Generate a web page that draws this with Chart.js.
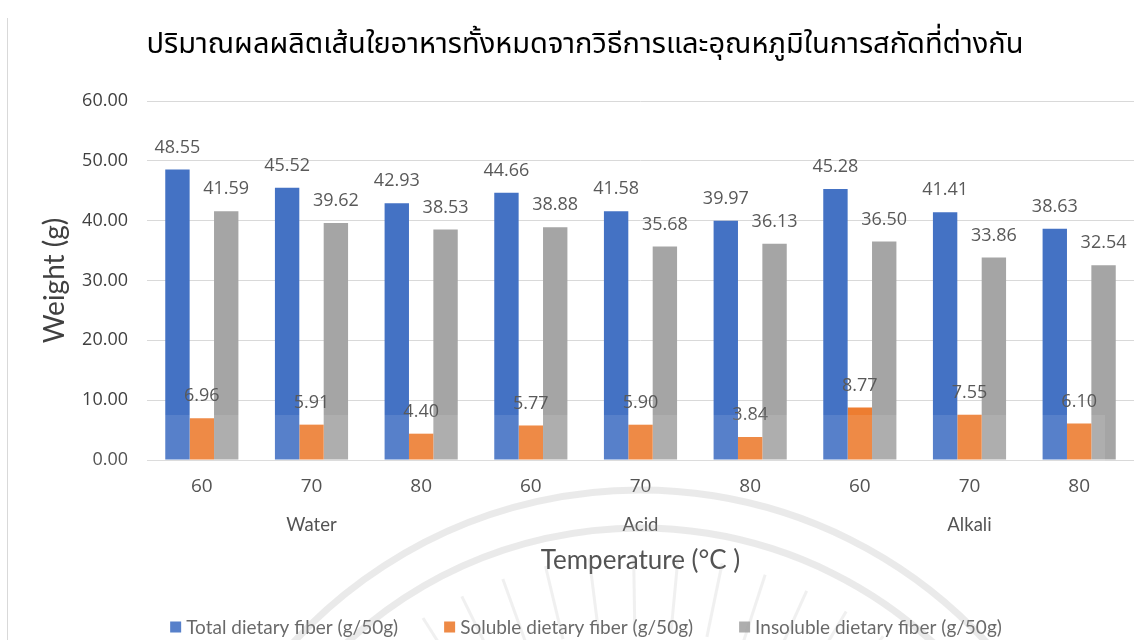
<!DOCTYPE html>
<html>
<head>
<meta charset="utf-8">
<script src="https://cdn.jsdelivr.net/npm/chart.js@4.4.1/dist/chart.umd.min.js"></script>
<style>
  html, body { margin: 0; padding: 0; background: #fff; }
  #wrap { width: 1134px; height: 640px; position: relative; }
</style>
</head>
<body>
<div id="wrap"><canvas id="chart" width="1134" height="640"></canvas></div>
<script>
const chartTitle = 'ปริมาณผลผลิตเส้นใยอาหารทั้งหมดจากวิธีการและอุณหภูมิในการสกัดที่ต่างกัน';
const temperatures = ['60', '70', '80', '60', '70', '80', '60', '70', '80'];
const methods = ['Water', 'Acid', 'Alkali'];
const seriesNames = ['Total dietary fiber (g/50g)', 'Soluble dietary fiber (g/50g)', 'Insoluble dietary fiber (g/50g)'];
const totalFiber = [48.55, 45.52, 42.93, 44.66, 41.58, 39.97, 45.28, 41.41, 38.63];
const solubleFiber = [6.96, 5.91, 4.40, 5.77, 5.90, 3.84, 8.77, 7.55, 6.10];
const insolubleFiber = [41.59, 39.62, 38.53, 38.88, 35.68, 36.13, 36.50, 33.86, 32.54];
const yMin = 0, yMax = 60, yStep = 10;

const colors = ['#4472C4', '#ED7D31', '#A5A5A5'];
const numFont = '"Open Sans", "Noto Sans", sans-serif';
const textFont = 'Lato, "Open Sans", sans-serif';

// values printed above each bar
const valueLabels = {
  id: 'valueLabels',
  afterDatasetsDraw(chart) {
    const ctx = chart.ctx;
    ctx.save();
    ctx.font = '18px ' + numFont;
    ctx.fillStyle = '#595959';
    ctx.textAlign = 'center';
    ctx.textBaseline = 'middle';
    chart.data.datasets.forEach((ds, i) => {
      chart.getDatasetMeta(i).data.forEach((bar, j) => {
        ctx.fillText(ds.data[j].toFixed(2), bar.x, bar.y - 22);
      });
    });
    ctx.restore();
  }
};

// extraction method under each group of three temperatures
const methodLabels = {
  id: 'methodLabels',
  afterDraw(chart) {
    const ctx = chart.ctx;
    const x = chart.scales.x;
    ctx.save();
    ctx.font = '18.5px ' + textFont;
    ctx.fillStyle = '#404040';
    ctx.textAlign = 'center';
    ctx.textBaseline = 'middle';
    methods.forEach((m, g) => {
      ctx.fillText(m, x.getPixelForValue(g * 3 + 1), 525);
    });
    ctx.restore();
  }
};

const headerAndLegend = {
  id: 'headerAndLegend',
  afterDraw(chart) {
    const ctx = chart.ctx;
    ctx.save();
    // left frame line
    ctx.strokeStyle = '#D9D9D9';
    ctx.lineWidth = 1;
    ctx.beginPath();
    ctx.moveTo(7.5, 18);
    ctx.lineTo(7.5, 640);
    ctx.stroke();

    // title
    ctx.font = '29px "Noto Sans Thai", "Noto Sans", Tahoma, sans-serif';
    ctx.fillStyle = '#000';
    ctx.textAlign = 'center';
    ctx.textBaseline = 'middle';
    ctx.fillText(chartTitle, 585, 47);

    // legend row
    ctx.font = '19px ' + textFont;
    ctx.textAlign = 'left';
    const box = 11, gap = 5, spacing = 46;
    const widths = seriesNames.map(n => ctx.measureText(n).width);
    const total = widths.reduce((a, w) => a + box + gap + w, 0) + spacing * (seriesNames.length - 1);
    let lx = 586 - total / 2;
    const ly = 627;
    chart.data.datasets.forEach((ds, i) => {
      ctx.fillStyle = ds.backgroundColor;
      ctx.fillRect(lx, ly - box / 2, box, box);
      ctx.fillStyle = '#595959';
      ctx.fillText(ds.label, lx + box + gap, ly + 1);
      lx += box + gap + widths[i] + spacing;
    });
    ctx.restore();
  }
};

// faint wash and seal stamped over the lower part of the sheet
const lowerWash = {
  id: 'lowerWash',
  afterDraw(chart) {
    const ctx = chart.ctx;
    ctx.save();
    ctx.fillStyle = 'rgba(255,255,255,0.1)';
    ctx.fillRect(58, 415, 1047, 225);
    ctx.strokeStyle = 'rgba(160,160,160,0.22)';
    ctx.lineWidth = 7;
    const cx = 640, cy = 960;
    [470, 432].forEach(r => {
      ctx.beginPath();
      ctx.arc(cx, cy, r, Math.PI * 1.05, Math.PI * 1.95);
      ctx.stroke();
    });
    ctx.lineWidth = 3;
    ctx.strokeStyle = 'rgba(160,160,160,0.16)';
    for (let a = 1.25; a <= 1.75; a += 0.035) {
      const t = Math.PI * a;
      ctx.beginPath();
      ctx.moveTo(cx + Math.cos(t) * 330, cy + Math.sin(t) * 330);
      ctx.lineTo(cx + Math.cos(t) * 405, cy + Math.sin(t) * 405);
      ctx.stroke();
    }
    ctx.restore();
  }
};

new Chart(document.getElementById('chart'), {
  type: 'bar',
  data: {
    labels: temperatures,
    datasets: [
      { label: seriesNames[0], data: totalFiber, backgroundColor: colors[0] },
      { label: seriesNames[1], data: solubleFiber, backgroundColor: colors[1] },
      { label: seriesNames[2], data: insolubleFiber, backgroundColor: colors[2] }
    ]
  },
  options: {
    responsive: false,
    animation: false,
    devicePixelRatio: 1,
    layout: { padding: { top: 101, left: 0, right: 0, bottom: 48 } },
    datasets: { bar: { categoryPercentage: 0.667, barPercentage: 1.0 } },
    plugins: {
      legend: { display: false },
      title: { display: false },
      tooltip: { enabled: false }
    },
    scales: {
      x: {
        grid: { display: false, drawTicks: false },
        border: { display: true, color: '#D9D9D9' },
        ticks: { font: { size: 19, family: numFont }, color: '#404040', padding: 15 },
        title: {
          display: true,
          text: 'Temperature (°C )',
          font: { size: 26, family: textFont },
          color: '#404040',
          padding: { top: 32, bottom: 16 }
        }
      },
      y: {
        min: yMin,
        max: yMax,
        afterFit(scale) { scale.width = 147; },
        grid: { color: '#D9D9D9', drawTicks: false },
        border: { display: false },
        ticks: {
          stepSize: yStep,
          padding: 19,
          font: { size: 18, family: numFont },
          color: '#404040',
          callback: v => v.toFixed(2)
        },
        title: {
          display: true,
          text: 'Weight (g)',
          font: { size: 28, family: textFont },
          color: '#404040',
          padding: { top: 38, bottom: 0 }
        }
      }
    }
  },
  plugins: [valueLabels, methodLabels, headerAndLegend, lowerWash]
});
</script>
</body>
</html>
